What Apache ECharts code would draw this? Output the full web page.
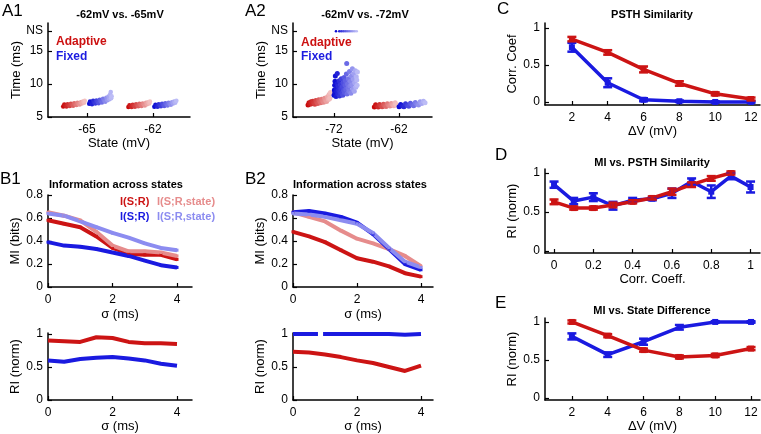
<!DOCTYPE html>
<html><head><meta charset="utf-8">
<script src="https://cdn.jsdelivr.net/npm/echarts@6/dist/echarts.min.js"></script>
<style>html,body{margin:0;padding:0;background:#fff}#c{width:761px;height:434px}</style>
</head><body><div id="c"></div>
<script>
// ---------- DATA ----------
// Panel A1 (-62mV vs -65mV): spike time clouds [state mV, time ms]
const a1AdaptNear65 = [[-66.08,6.6],[-66.03,6.9],[-65.98,6.72],[-65.93,6.58],[-65.88,6.95],[-65.83,6.78],[-65.78,6.65],[-65.73,7.0],[-65.68,6.85],[-65.63,6.72],[-65.58,7.08],[-65.53,6.9],[-65.48,6.8],[-65.43,7.15],[-65.38,6.98],[-65.33,6.88],[-65.28,7.25],[-65.23,7.05],[-65.18,7.35],[-65.13,7.15],[-65.1,7.45]];
const a1FixedNear65 = [[-64.9,7.0],[-64.86,7.35],[-64.82,7.15],[-64.77,6.95],[-64.72,7.45],[-64.67,7.2],[-64.62,7.05],[-64.57,7.5],[-64.52,7.3],[-64.47,7.1],[-64.42,7.6],[-64.37,7.35],[-64.32,7.2],[-64.27,7.75],[-64.22,7.45],[-64.17,7.3],[-64.12,7.9],[-64.07,7.55],[-64.02,8.1],[-63.98,7.7],[-63.95,8.4],[-63.92,8.8],[-63.9,7.85],[-63.88,8.15]];
const a1AdaptNear62 = [[-63.12,6.5],[-63.07,6.78],[-63.02,6.62],[-62.97,6.5],[-62.92,6.85],[-62.87,6.68],[-62.82,6.56],[-62.77,6.92],[-62.72,6.74],[-62.67,6.62],[-62.62,7.0],[-62.57,6.8],[-62.52,6.68],[-62.47,7.05],[-62.42,6.88],[-62.37,6.75],[-62.32,7.15],[-62.27,6.95],[-62.22,7.25],[-62.17,7.05],[-62.14,7.35]];
const a1FixedNear62 = [[-61.94,6.55],[-61.89,6.85],[-61.84,6.68],[-61.79,6.55],[-61.74,6.92],[-61.69,6.75],[-61.64,6.62],[-61.59,7.0],[-61.54,6.82],[-61.49,6.68],[-61.44,7.08],[-61.39,6.9],[-61.34,6.76],[-61.29,7.15],[-61.24,6.98],[-61.19,6.85],[-61.14,7.25],[-61.09,7.05],[-61.04,7.35],[-60.99,7.15],[-60.94,7.45]];
const a1XTicks = [-65,-62];
// Panel A2 (-62mV vs -72mV)
const a2AdaptNear72 = [[-76.0,6.8],[-75.85,7.15],[-75.7,6.95],[-75.55,7.3],[-75.4,7.0],[-75.25,7.4],[-75.1,7.1],[-74.95,6.95],[-74.8,7.5],[-74.65,7.2],[-74.5,7.05],[-74.35,7.6],[-74.2,7.3],[-74.05,7.15],[-73.9,7.7],[-73.75,7.4],[-73.6,7.25],[-73.45,7.85],[-73.3,7.5],[-73.15,7.35],[-73.0,8.05],[-72.85,7.65],[-72.75,8.4],[-72.65,7.8],[-72.55,8.7]];
const a2FixedNear72 = [[-72.0,8.3],[-71.95,9.1],[-71.9,9.8],[-71.88,8.7],[-71.85,10.4],[-71.8,11.2],[-71.7,8.1],[-71.65,9.4],[-71.6,8.9],[-71.55,10.0],[-71.5,11.6],[-71.42,8.5],[-71.35,9.7],[-71.3,9.1],[-71.22,10.5],[-71.15,8.2],[-71.1,8.8],[-71.02,9.9],[-70.95,9.3],[-70.88,10.8],[-70.8,8.6],[-70.72,9.6],[-70.65,8.3],[-70.6,10.2],[-70.52,9.0],[-70.45,11.0],[-70.38,8.7],[-70.3,9.8],[-70.25,10.5],[-70.18,9.2],[-70.1,11.5],[-70.05,13.1],[-70.0,8.5],[-69.92,10.0],[-69.85,9.4],[-69.78,10.8],[-69.7,8.9],[-69.62,11.9],[-69.55,9.7],[-69.48,10.4],[-69.4,8.6],[-69.32,11.2],[-69.25,9.9],[-69.18,12.3],[-69.1,9.2],[-69.02,10.7],[-68.95,11.6],[-68.88,8.9],[-68.8,10.2],[-68.72,12.0],[-68.65,9.5],[-68.58,11.1],[-68.5,10.6],[-68.45,9.8],[-68.4,11.8]];
const a2FixedNS = [[-71.7,18],[-71.2,18],[-70.9,18],[-70.6,18],[-70.3,18],[-70.0,18],[-69.7,18],[-69.4,18],[-69.1,18],[-68.8,18],[-68.5,18]];
const a2AdaptNear62 = [[-65.8,6.5],[-65.6,6.85],[-65.4,6.62],[-65.2,6.5],[-65.0,6.9],[-64.8,6.68],[-64.6,6.55],[-64.4,6.95],[-64.2,6.72],[-64.0,6.6],[-63.8,7.0],[-63.6,6.78],[-63.4,6.65],[-63.2,7.05],[-63.0,6.85],[-62.8,6.72],[-62.6,7.15],[-62.5,6.9]];
const a2FixedNear62 = [[-62.0,6.55],[-61.75,6.9],[-61.5,6.65],[-61.25,6.55],[-61.0,7.0],[-60.75,6.75],[-60.5,6.62],[-60.25,7.1],[-60.0,6.85],[-59.75,6.7],[-59.5,7.2],[-59.25,6.95],[-59.0,6.8],[-58.75,7.3],[-58.5,7.05],[-58.25,7.4],[-58.0,7.15]];
const a2XTicks = [-72,-62];
const aYTicks = [5,10,15,18];
const aYTickLabels = ['5','10','15','NS'];

// Panels B1/B2: sigma (ms)
const sigma = [0,0.5,1,1.5,2,2.5,3,3.5,4];
const b1AdaptMI      = [0.58,0.55,0.52,0.44,0.34,0.29,0.28,0.28,0.24];
const b1AdaptMIState = [0.65,0.62,0.58,0.48,0.36,0.31,0.31,0.30,0.27];
const b1FixedMI      = [0.39,0.36,0.35,0.33,0.30,0.27,0.23,0.19,0.17];
const b1FixedMIState = [0.64,0.62,0.57,0.52,0.47,0.43,0.38,0.34,0.32];
const b1AdaptRI      = [0.90,0.89,0.88,0.95,0.94,0.88,0.86,0.86,0.85];
const b1FixedRI      = [0.60,0.58,0.62,0.64,0.65,0.63,0.60,0.55,0.52];
const b2AdaptMI      = [0.48,0.44,0.39,0.32,0.25,0.22,0.18,0.12,0.09];
const b2AdaptMIState = [0.65,0.61,0.57,0.49,0.42,0.38,0.33,0.27,0.18];
const b2FixedMI      = [0.65,0.66,0.64,0.61,0.56,0.46,0.33,0.20,0.15];
const b2FixedMIState = [0.64,0.63,0.61,0.58,0.55,0.47,0.34,0.22,0.17];
const b2AdaptRI      = [0.73,0.72,0.69,0.65,0.60,0.56,0.50,0.44,0.52];
const b2FixedRISigma = [0,0.4,0.78,0.86,0.94,1.5,2,2.5,3,3.5,4];
const b2FixedRI      = [1,1,1,'-',1,1,1,1,1,0.99,1];
const bXTicks = [0,2,4];
const bMIYTicks = [0,0.2,0.4,0.6,0.8];
const riYTicks = [0,0.5,1];

// Panel C: PSTH similarity vs dV
const dV = [2,4,6,8,10,12];
const cAdapt    = [0.85,0.67,0.44,0.25,0.11,0.04];
const cAdaptErr = [0.03,0.03,0.04,0.03,0.02,0.02];
const cFixed    = [0.74,0.26,0.03,0.01,0.0,0.0];
const cFixedErr = [0.06,0.06,0.02,0.01,0.01,0.01];
// Panel D: RI vs correlation coefficient
const corr = [0,0.1,0.2,0.3,0.4,0.5,0.6,0.7,0.8,0.9,1.0];
const dAdapt    = [0.63,0.55,0.55,0.59,0.63,0.68,0.76,0.85,0.93,1.0];
const dAdaptErr = [0.03,0.02,0.02,0.03,0.02,0.02,0.04,0.03,0.03,0.02];
const dFixed    = [0.85,0.64,0.69,0.58,0.65,0.67,0.74,0.89,0.76,0.96,0.82];
const dFixedErr = [0.04,0.04,0.05,0.05,0.03,0.02,0.06,0.04,0.08,0.04,0.07];
const dXTicks = [0,0.2,0.4,0.6,0.8,1];
// Panel E: RI vs state difference
const eAdapt    = [1.0,0.82,0.63,0.54,0.56,0.65];
const eAdaptErr = [0.02,0.02,0.02,0.02,0.02,0.02];
const eFixed    = [0.81,0.57,0.74,0.93,1.0,1.0];
const eFixedErr = [0.04,0.03,0.04,0.03,0.01,0.01];

// ---------- STYLE ----------
const FF = '"Liberation Sans", Arial, Helvetica, sans-serif';
const RED = '#cc1414', LRED = '#e68c8c', BLUE = '#1a1ae0', LBLUE = '#8c8cf0';

function axis(gi, dim, min, max, ticks, name, nameGap, labels) {
  return {
    gridIndex: gi, type: 'value', min, max, position: dim === 'x' ? 'bottom' : 'left',
    axisLine: {show: true, onZero: false, lineStyle: {color: '#000', width: 1.5}},
    axisTick: {show: true, inside: true, length: 4, customValues: ticks, lineStyle: {color: '#000', width: 1.2}},
    axisLabel: {show: true, customValues: ticks, color: '#000', fontSize: 12, fontFamily: FF, margin: dim === 'x' ? 7 : 5,
      formatter: labels ? (v) => { const i = ticks.indexOf(v); return i >= 0 ? labels[i] : ''; } : undefined},
    splitLine: {show: false},
    name, nameLocation: 'middle', nameGap,
    nameTextStyle: {color: '#000', fontSize: 13, fontFamily: FF}
  };
}
function mix(c0, c1, t) {
  return 'rgb(' + c0.map((v, i) => Math.round(v + (c1[i] - v) * t)).join(',') + ')';
}
function cloud(gi, data, c0, c1, size) {
  const xs = data.map(d => d[0]);
  const lo = Math.min(...xs), hi = Math.max(...xs);
  return {type: 'scatter', xAxisIndex: gi, yAxisIndex: gi, data, symbol: 'circle', symbolSize: size || 4,
    itemStyle: {color: (p) => mix(c0, c1, hi > lo ? (p.data[0] - lo) / (hi - lo) : 0), opacity: 1}, z: 2};
}
function line(gi, xs, ys, color, w, sym, z) {
  return {type: 'line', xAxisIndex: gi, yAxisIndex: gi, data: xs.map((x, i) => [x, ys[i]]),
    lineStyle: {color, width: w}, itemStyle: {color}, symbol: sym ? 'rect' : 'none', symbolSize: sym || 0,
    showSymbol: !!sym, connectNulls: false, z: z || 2};
}
function errBars(gi, xs, ys, es, color) {
  return {type: 'custom', xAxisIndex: gi, yAxisIndex: gi,
    data: ys.map((y, i) => [xs[i], y - es[i], y + es[i]]),
    encode: {x: 0, y: [1, 2]}, z: 3,
    renderItem: (params, api) => {
      const a = api.coord([api.value(0), api.value(1)]);
      const b = api.coord([api.value(0), api.value(2)]);
      const h = 4.5, st = {stroke: color, lineWidth: 2.5};
      return {type: 'group', children: [
        {type: 'line', shape: {x1: a[0], y1: a[1], x2: b[0], y2: b[1]}, style: st},
        {type: 'line', shape: {x1: a[0] - h, y1: a[1], x2: a[0] + h, y2: a[1]}, style: st},
        {type: 'line', shape: {x1: b[0] - h, y1: b[1], x2: b[0] + h, y2: b[1]}, style: st}
      ]};
    }};
}
const R0 = [200, 10, 10], R1 = [242, 192, 192], B0 = [10, 10, 210], B1 = [188, 188, 246];

function txt(x, y, s, opt) {
  return {type: 'text', x, y, style: Object.assign({text: s, fill: '#000', fontFamily: FF, fontSize: 11,
    fontWeight: 'bold', textAlign: 'center', textVerticalAlign: 'middle'}, opt || {})};
}

const grids = [
  {left: 48, top: 23, width: 142, height: 94},    // 0 A1
  {left: 293, top: 23, width: 139, height: 94},   // 1 A2
  {left: 545, top: 23, width: 215, height: 82},   // 2 C
  {left: 48, top: 195, width: 144, height: 92},   // 3 B1 MI
  {left: 293, top: 195, width: 140, height: 92},  // 4 B2 MI
  {left: 545, top: 169, width: 215, height: 84},  // 5 D
  {left: 48, top: 333, width: 144, height: 67},   // 6 B1 RI
  {left: 293, top: 333, width: 140, height: 67},  // 7 B2 RI
  {left: 545, top: 318, width: 215, height: 83}   // 8 E
];

const xAxes = [
  axis(0, 'x', -66.77, -60.32, a1XTicks, 'State (mV)', 20),
  axis(1, 'x', -78.31, -56.93, a2XTicks, 'State (mV)', 20),
  axis(2, 'x', 0.5, 12.5, dV, 'ΔV (mV)', 18),
  axis(3, 'x', 0, 4.465, bXTicks, 'σ (ms)', 21),
  axis(4, 'x', 0, 4.375, bXTicks, 'σ (ms)', 21),
  axis(5, 'x', -0.046, 1.048, dXTicks, 'Corr. Coeff.', 19),
  axis(6, 'x', 0, 4.465, bXTicks, 'σ (ms)', 20),
  axis(7, 'x', 0, 4.375, bXTicks, 'σ (ms)', 20),
  axis(8, 'x', 0.5, 12.5, dV, 'ΔV (mV)', 20)
];
const yAxes = [
  axis(0, 'y', 5, 19.24, aYTicks, 'Time (ms)', 24, aYTickLabels),
  axis(1, 'y', 5, 19.24, aYTicks, 'Time (ms)', 24, aYTickLabels),
  axis(2, 'y', -0.041, 1.068, riYTicks, 'Corr. Coef', 25),
  axis(3, 'y', 0, 0.8, bMIYTicks, 'MI (bits)', 25),
  axis(4, 'y', 0, 0.8, bMIYTicks, 'MI (bits)', 25),
  axis(5, 'y', -0.026, 1.051, riYTicks, 'RI (norm)', 25),
  axis(6, 'y', 0, 1.015, riYTicks, 'RI (norm)', 25),
  axis(7, 'y', 0, 1.015, riYTicks, 'RI (norm)', 25),
  axis(8, 'y', -0.026, 1.052, riYTicks, 'RI (norm)', 25)
];

const series = [
  cloud(0, a1AdaptNear65, R0, R1, 4.5), cloud(0, a1FixedNear65, B0, B1, 4.5),
  cloud(0, a1AdaptNear62, R0, R1, 4.5), cloud(0, a1FixedNear62, B0, B1, 4.5),
  cloud(1, a2AdaptNear72, R0, R1, 5), cloud(1, a2FixedNear72, B0, B1, 5),
  cloud(1, a2FixedNS, B0, B1, 2.5),
  cloud(1, a2AdaptNear62, R0, R1, 5), cloud(1, a2FixedNear62, B0, B1, 5),
  // C
  line(2, dV, cFixed, BLUE, 3.5, 6), errBars(2, dV, cFixed, cFixedErr, BLUE),
  line(2, dV, cAdapt, RED, 3.5, 6), errBars(2, dV, cAdapt, cAdaptErr, RED),
  // B1 MI
  line(3, sigma, b1AdaptMI, RED, 4, 3), line(3, sigma, b1AdaptMIState, LRED, 4, 3),
  line(3, sigma, b1FixedMI, BLUE, 4, 3), line(3, sigma, b1FixedMIState, LBLUE, 4, 3),
  // B2 MI
  line(4, sigma, b2AdaptMIState, LRED, 4, 3), line(4, sigma, b2AdaptMI, RED, 4, 3),
  line(4, sigma, b2FixedMI, BLUE, 4, 3), line(4, sigma, b2FixedMIState, LBLUE, 4, 3),
  // D
  line(5, corr, dFixed, BLUE, 3.5, 6), errBars(5, corr, dFixed, dFixedErr, BLUE),
  line(5, corr.slice(0, dAdapt.length), dAdapt, RED, 3.5, 6), errBars(5, corr, dAdapt, dAdaptErr, RED),
  // B1 RI
  line(6, sigma, b1AdaptRI, RED, 4, 0), line(6, sigma, b1FixedRI, BLUE, 4, 0),
  // B2 RI
  line(7, sigma, b2AdaptRI, RED, 4, 0), line(7, b2FixedRISigma, b2FixedRI, BLUE, 4, 0),
  // E
  line(8, dV, eFixed, BLUE, 3.5, 6), errBars(8, dV, eFixed, eFixedErr, BLUE),
  line(8, dV, eAdapt, RED, 3.5, 6), errBars(8, dV, eAdapt, eAdaptErr, RED)
];

const graphic = [
  txt(2, 11, 'A1', {fontSize: 17, fontWeight: 'normal', textAlign: 'left'}),
  txt(245, 11, 'A2', {fontSize: 17, fontWeight: 'normal', textAlign: 'left'}),
  txt(497, 9, 'C', {fontSize: 17, fontWeight: 'normal', textAlign: 'left'}),
  txt(0, 179, 'B1', {fontSize: 17, fontWeight: 'normal', textAlign: 'left'}),
  txt(245, 179, 'B2', {fontSize: 17, fontWeight: 'normal', textAlign: 'left'}),
  txt(495, 155, 'D', {fontSize: 17, fontWeight: 'normal', textAlign: 'left'}),
  txt(495, 303, 'E', {fontSize: 17, fontWeight: 'normal', textAlign: 'left'}),
  txt(120, 15, '-62mV vs. -65mV'),
  txt(365, 15, '-62mV vs. -72mV'),
  txt(652, 15, 'PSTH Similarity'),
  txt(49, 185, 'Information across states', {textAlign: 'left'}),
  txt(293, 185, 'Information across states', {textAlign: 'left'}),
  txt(652, 163, 'MI vs. PSTH Similarity'),
  txt(652, 311, 'MI vs. State Difference'),
  txt(56, 42, 'Adaptive', {fontSize: 12, fill: '#cc1010', textAlign: 'left'}),
  txt(56, 57, 'Fixed', {fontSize: 12, fill: '#1c1ce0', textAlign: 'left'}),
  txt(301, 43, 'Adaptive', {fontSize: 12, fill: '#cc1010', textAlign: 'left'}),
  txt(301, 57, 'Fixed', {fontSize: 12, fill: '#1c1ce0', textAlign: 'left'}),
  txt(120, 202, 'I(S;R)', {fill: RED, textAlign: 'left'}),
  txt(157, 202, 'I(S;R,state)', {fill: LRED, textAlign: 'left'}),
  txt(120, 217, 'I(S;R)', {fill: BLUE, textAlign: 'left'}),
  txt(157, 217, 'I(S;R,state)', {fill: LBLUE, textAlign: 'left'})
];

const chart = echarts.init(document.getElementById('c'), null, {renderer: 'canvas'});
chart.setOption({
  animation: false,
  backgroundColor: '#fff',
  textStyle: {fontFamily: FF},
  grid: grids,
  xAxis: xAxes,
  yAxis: yAxes,
  series,
  graphic
});
</script>
</body></html>
